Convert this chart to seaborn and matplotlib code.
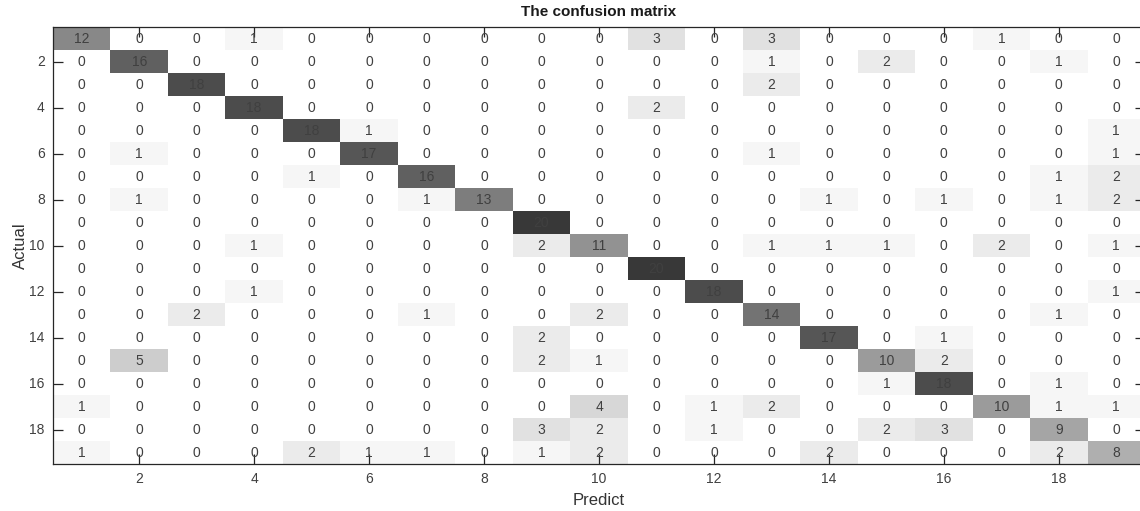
import numpy as np
import pandas as pd
import matplotlib
matplotlib.use("Agg")
import matplotlib.pyplot as plt
import seaborn as sns
from matplotlib.colors import LinearSegmentedColormap

# class labels 1..19
classes = list(range(1, 20))

# confusion matrix rows (actual)
row_01 = [12, 0, 0, 1, 0, 0, 0, 0, 0, 0, 3, 0, 3, 0, 0, 0, 1, 0, 0]
row_02 = [0, 16, 0, 0, 0, 0, 0, 0, 0, 0, 0, 0, 1, 0, 2, 0, 0, 1, 0]
row_03 = [0, 0, 18, 0, 0, 0, 0, 0, 0, 0, 0, 0, 2, 0, 0, 0, 0, 0, 0]
row_04 = [0, 0, 0, 18, 0, 0, 0, 0, 0, 0, 2, 0, 0, 0, 0, 0, 0, 0, 0]
row_05 = [0, 0, 0, 0, 18, 1, 0, 0, 0, 0, 0, 0, 0, 0, 0, 0, 0, 0, 1]
row_06 = [0, 1, 0, 0, 0, 17, 0, 0, 0, 0, 0, 0, 1, 0, 0, 0, 0, 0, 1]
row_07 = [0, 0, 0, 0, 1, 0, 16, 0, 0, 0, 0, 0, 0, 0, 0, 0, 0, 1, 2]
row_08 = [0, 1, 0, 0, 0, 0, 1, 13, 0, 0, 0, 0, 0, 1, 0, 1, 0, 1, 2]
row_09 = [0, 0, 0, 0, 0, 0, 0, 0, 20, 0, 0, 0, 0, 0, 0, 0, 0, 0, 0]
row_10 = [0, 0, 0, 1, 0, 0, 0, 0, 2, 11, 0, 0, 1, 1, 1, 0, 2, 0, 1]
row_11 = [0, 0, 0, 0, 0, 0, 0, 0, 0, 0, 20, 0, 0, 0, 0, 0, 0, 0, 0]
row_12 = [0, 0, 0, 1, 0, 0, 0, 0, 0, 0, 0, 18, 0, 0, 0, 0, 0, 0, 1]
row_13 = [0, 0, 2, 0, 0, 0, 1, 0, 0, 2, 0, 0, 14, 0, 0, 0, 0, 1, 0]
row_14 = [0, 0, 0, 0, 0, 0, 0, 0, 2, 0, 0, 0, 0, 17, 0, 1, 0, 0, 0]
row_15 = [0, 5, 0, 0, 0, 0, 0, 0, 2, 1, 0, 0, 0, 0, 10, 2, 0, 0, 0]
row_16 = [0, 0, 0, 0, 0, 0, 0, 0, 0, 0, 0, 0, 0, 0, 1, 18, 0, 1, 0]
row_17 = [1, 0, 0, 0, 0, 0, 0, 0, 0, 4, 0, 1, 2, 0, 0, 0, 10, 1, 1]
row_18 = [0, 0, 0, 0, 0, 0, 0, 0, 3, 2, 0, 1, 0, 0, 2, 3, 0, 9, 0]
row_19 = [1, 0, 0, 0, 2, 1, 1, 0, 1, 2, 0, 0, 0, 2, 0, 0, 0, 2, 8]

tick_labels = [2, 4, 6, 8, 10, 12, 14, 16, 18]

cm = pd.DataFrame(
    [row_01, row_02, row_03, row_04, row_05, row_06, row_07, row_08, row_09,
     row_10, row_11, row_12, row_13, row_14, row_15, row_16, row_17, row_18,
     row_19],
    index=classes, columns=classes)

sns.set_style("ticks")
plt.rcParams['font.family'] = ['Liberation Sans', 'DejaVu Sans']

text_col = '#404040'
cmap = LinearSegmentedColormap.from_list('grays', ['#ffffff', '#383838'])

fig = plt.figure(figsize=(11.4, 5.11), dpi=100)
ax = fig.add_axes([53 / 1140, 1 - 464 / 511, 1092 / 1140, 437 / 511])

sns.heatmap(cm, ax=ax, cmap=cmap, vmin=0, vmax=20, cbar=False,
            annot=True, fmt='d', linewidths=0,
            annot_kws={'color': text_col, 'fontsize': 10})

# matlab style box with inward ticks on all sides
for side in ['top', 'bottom', 'left', 'right']:
    ax.spines[side].set_visible(True)
    ax.spines[side].set_color('#262626')
    ax.spines[side].set_linewidth(0.9)

pos = [c - 0.5 for c in tick_labels]
ax.set_xticks(pos)
ax.set_xticklabels([str(t) for t in tick_labels], rotation=0)
ax.set_yticks(pos)
ax.set_yticklabels([str(t) for t in tick_labels], rotation=0)
ax.tick_params(axis='both', which='major', direction='in', length=7,
               width=0.9, color='#262626', labelsize=10,
               labelcolor=text_col, top=True, right=True, bottom=True,
               left=True, pad=6)
for t in ax.xaxis.get_ticklines() + ax.yaxis.get_ticklines():
    t.set_zorder(5)
ax.set_axisbelow(False)

ax.set_xlabel('Predict', fontsize=12, color='#333333', labelpad=5)
ax.set_ylabel('Actual', fontsize=12, color='#333333', labelpad=1)
ax.set_title('The confusion matrix', fontsize=11, fontweight='bold',
             color='#1a1a1a', pad=8)

fig.savefig('out.png', dpi=100)
